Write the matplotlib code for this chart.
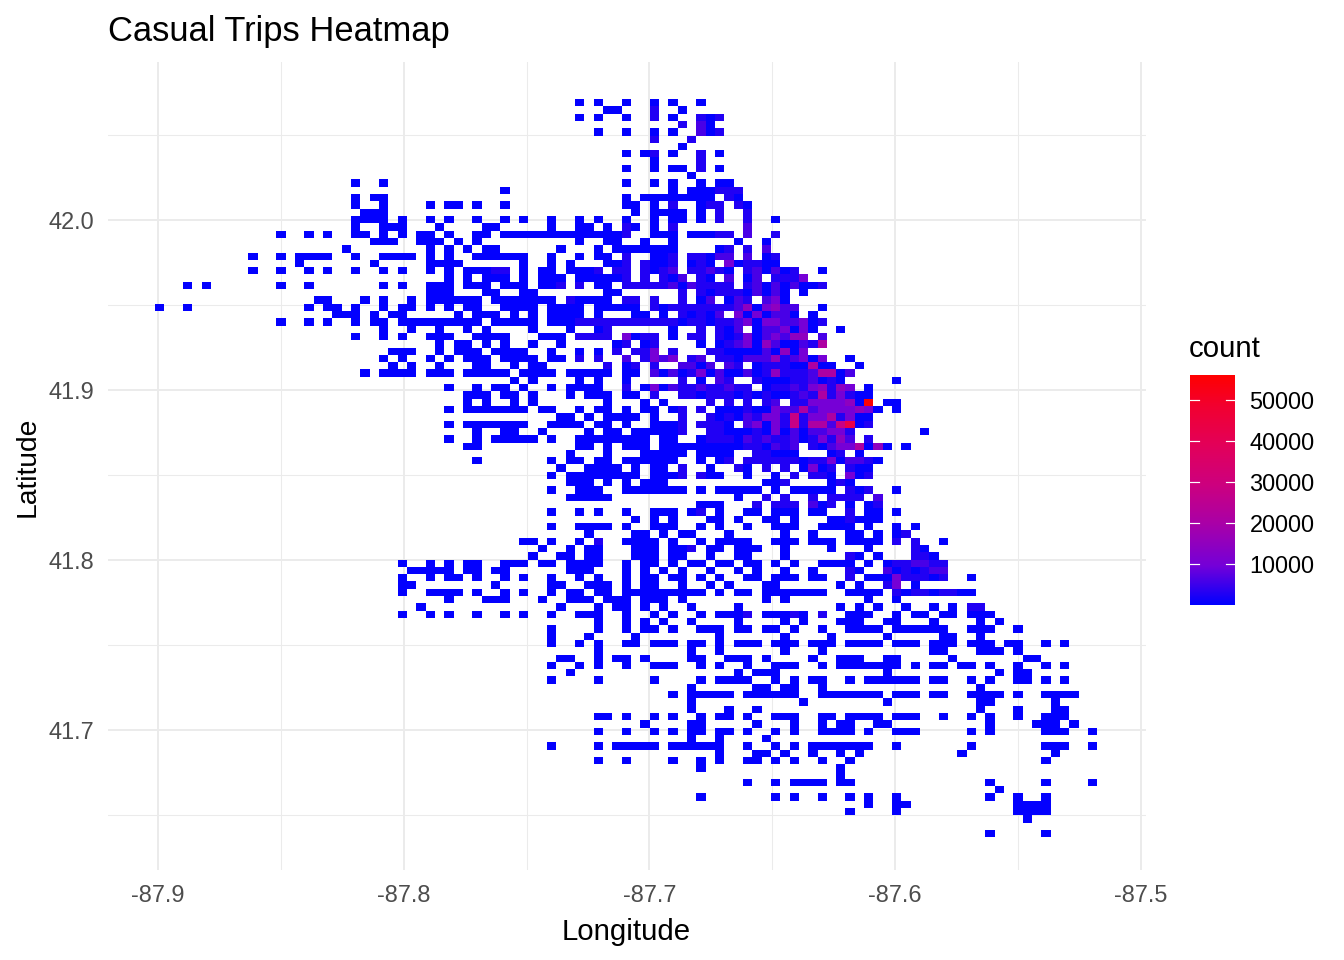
import numpy as np
import matplotlib
matplotlib.use("Agg")
import matplotlib.pyplot as plt
from matplotlib.colors import LinearSegmentedColormap, Normalize

plt.rcParams['font.family'] = ['Liberation Sans', 'DejaVu Sans']

TITLE = "Casual Trips Heatmap"
X_LABEL = "Longitude"
Y_LABEL = "Latitude"
X_TICKS = [-87.9, -87.8, -87.7, -87.6, -87.5]
X_TICK_LABELS = ["-87.9", "-87.8", "-87.7", "-87.6", "-87.5"]
Y_TICKS = [41.7, 41.8, 41.9, 42.0]
Y_TICK_LABELS = ["41.7", "41.8", "41.9", "42.0"]
X_MINOR = [-87.85, -87.75, -87.65, -87.55]
Y_MINOR = [41.65, 41.75, 41.85, 41.95, 42.05]
LEGEND_TICKS = [10000, 20000, 30000, 40000, 50000]

# bin grid of the 2-D histogram
LON_START, LON_STEP = -87.90122, 0.003797
LAT_START, LAT_STEP = 42.07118, -0.0043
N_BINS = 101

# trip count read for each colour grade seen in the picture
GRADE_COUNTS = {0: 300, 1: 2800, 2: 6000, 3: 10000, 4: 14500, 5: 21000,
                6: 28000, 7: 43000, 10: 56000}

# Occupied bins, one string per latitude row from north to south:
# "column" or "first-last", with ":grade" when not the faintest colour.
ROWS_NORTH = [
 "45 47 50 53 55 58",
 "48-49 53:1 56",
 "45 47 50 53:1 55 58:1 59 60:1",
 "56:1 58:2 59",
 "47 50 53 55 58:2 59 60:1",
 "53:1 57:1",
 "56",
 "50 52 53:1 55 58:1 60",
 "53 58:1",
 "50 53 55-56 58:1 60",
 "57",
 "21 24 50 53 55 58 60-61",
 "37 55 57-59 60-62:1",
 "21 23-24 50 52-59 61:1 62",
 "21 24 29 31-32 34 37 50-51 53 55:1 58 59-60:1 62:1 63",
 "22-24 51 53-56 58 60:1 63:1",
 "21-24 26 29 31 34 37 39 42 45 47 50 53 55-56 58 60:1 63:1 66",
 "21 24-26 30 35-36 42 45-46 48 50:1 51 53 55:1 63:2",
 "13 16 18 21-22 24 26 28-29 31 34-35 37-49 50:1 53-55 57-59 60-61:1 63:2 66:1",
 "23-25 28-30 32 34 45 48-49 52 55 62 65",
 "20 29 31 33 35-36 43 47 49-55 60 61:1 63:1 65:2",
 "10 13 15-18 21 24-27 29 31 34-39 42 45 47-48 50:1 53-54 55:1 57-58:1 59 60-61:2 63:2 65 66:1",
 "15 23 29-32 39 42 44 48-49 50:1 52:1 53-54 55:1 57 58:1 59 61:3 62 63-64:1 65-66",
 "10 13 16 18 21 24 26 29 31 33-35 36-37:1 39 41-42 44-46 47:1 49-50:1 52:1 53 54:1 55:2 57-58:1 59:2 60:1 61 63:1 64:2 65 66:2 67 68:1 71",
 "31 33 35-37 39 41-43 45-49 50:1 52:1 54:1 55 56:2 58:1 59 61:2 63 64:2 66-68:1 69:3",
 "3 5 13 16 24 26 29-31 33-35 37-39 41-42 43:1 45:1 47-48 50-54:1 55:2 56 57:2 58-61:1 63:1 64:2 65 66:2 67 68:2 69-70 71:1",
 "29-31 35-36 39-40 48-49 56:1 58:1 59 60-62:1 63 64:2 65 66:2 67 69",
 "17-18 22 24 27 29-34 36-42 44:1 45-48 50-51:1 53:1 56:1 58 59:2 61 62:2 63:1 65:2 66:3 67",
 "0 3 16 18-19 21 24 26-27 29 31 33-34 37-40 42-45 47-51 53:1 54 55:1 56-61:1 62:2 63:4 64 65:3 66:4 67-68:2 71",
 "19-21 23 25-26 32 34-36 38 40 42-45 47 51-52 54 56:1 57 58:1 59 60:2 62:3 63 64:3 65 66-67:2 68 70",
 "13 16 18 21 23-24 26-34 36-40 42-44 45-55:1 56 57-58:1 59 60-61:1 62:2 63:3 64 65-66:3 67-68:2 69:3 70 71:1",
 "24 27 30 33 35 40 44 47 48:1 55 58:1 60:1 61 62:2 64 65-66:2 67:3 68 69:3 70 73",
 "21 24 26 29-31 34-37 41-43 45-48:1 50:3 51 52-53:1 55 57-58:1 60:1 61 62:1 63:3 64 65:2 66:3 67:2 68-69:4 71:2",
]
ROWS_CORE = [
 "30 32-33 35 37 40 43 49 50:1 52 53:1 58 60 61:1 62:2 63:3 64 65:4 66:2 67-68 69:2 70:1 71:5",
 "25-27 30 32-34 36-39 42 45 47 49:1 51-52:1 53:3 55:1 59-60:1 61-64 65:2 66 67:4 68 69:3",
 "24 26 29 31 33-35 37-40 42-43 45:1 47:1 50:2 52:1 53:3 54:2 55:3 57:1 58:2 60-61:1 62 63-64:2 65:2 66:4 67:1 68:2 69:3 70 71:3 74",
 "25 27 30 34-35 38 40-41 48:1 50 51:1 53:1 56-57:2 58 59:2 61:2 62:1 64 65-67:1 68-69 70:5 71-72 75",
 "22 24-27 29-31 33-37 39-42 44-48 50-51 53:2 54 55:2 56 57:1 58:3 59 60:2 61-62 63:2 64 65:1 66:4 67-68:1 69:1 70:2 71-72:5 73 74:2",
 "38 40 45 47 50 56:1 58 60:2 61:1 64:1 65-67 68-69:1 70:2 71 72:1 73 79",
 "31 34 36-37 39 42 44-47 50:1 52 53:3 54 55:2 56-57:1 58:2 59-60:1 61:2 62-63:1 65 66-67:1 68:2 69:1 70:3 71:4 72:1 73:4 74:3 76",
 "33-35 37-38 40 44 46-48 50-51 53:1 56-57:1 58 59-61:1 62 63:1 64 65:1 66-67 68:1 69:2 70:1 71:5 72:1 73:3 74:1 75-76",
 "33 35 38 40 48 52 54 59:1 61:1 63:1 65:1 66:2 68-69:1 70-73:3 74:4 75 76:10 78-79",
 "31 33-39 41-42 45 47-48 50 52-53 55 56:1 58:1 60 61-62 63:1 64-65 66:3 67-68:2 69:5 70:2 71-74:3 75:4 76:3 77 79",
 "43-44 46 48-51 53 56:1 59:1 60 61:1 62 63:2 64:1 65-66:3 67:1 68:6 69:1 70-71:3 72:5 73:1 74:3 75-76",
 "31 33-39 42-45 47-48 50 53-55 56:1 58:1 59-60:1 61 63:2 64:3 65 66:3 67:1 68:6 69:1 70-71:5 72:2 73:6 74:7 75 76:1",
 "34 37-38 41 46 48-49 51-55 56:1 59-60:1 61-63 64:1 65 66:3 67 68:2 69 70-71:2 72-73:3 74:1 82",
 "31 34 36-40 42 45-52 54-55 58 59-61:1 62 63:2 64:1 65:2 66-67:1 68:2 69 70:1 71:3 72:1 73:4 74:2 76:1",
 "33-34 45-46 48 50-52 54-61 62 63-64:1 65 66:2 67:1 68:2 70:1 71 72:2 73-74:3 75:5 76 77:4 78 80",
 "44 48 52-56 58-61 64-65:1 66-68 72 73:1 75",
 "34 42 44-45 47-48 50-55 58 60 61:1 63-68:1 69 70-71:1 72:3 73 74-75:2 76:1 77",
 "43 46-49 51 53-54 56:1 59 62:1 63 65:1 67:1 69 70:3 71 72:1 74:1 75-76",
 "42 44-51 53-55 56:1 58:1 59-60 63 66 68:1 70-71:1 72 74:3 75 76:1",
 "44-46 48 50 52-54 65-66 67:1 72 73:1 74",
 "42 45-47 50-56 58 60-64 66 68-72 74:1 75 76:1 79",
 "44-48 62 65:1 67:1 70:1 72-75:1 77:2",
 "58-60 64:1 66:1 67-68:1 70:2 71 72:1 74 76 77:1",
 "42 45 47 50 53-55 57 58:1 60 63-64 66-68 70-71 74:1 76-77 79",
 "51 53 55 59-60 62 65-66 68 72-73 74:1 75-77",
 "42 45-48 50 53-55 58 60 63 66-68 71-74 76 79 81",
 "46 51-52 54 56-57 61 67 70 74-75 77 79 80:1",
 "39-40 42 45 47:1 50-53 55 58 60-63 66-68 70-72 74-77 79:1 81:1 84",
 "41 44 46-47 51-53 55-56 57:1 59-60 62-64 67 72 76 81:1 82",
 "40 43-44 46-47 51-53 55-56 59 62-63 67 74:1 75 77 81-82:1 83",
 "26 29 31 33-34 37-39 41-42 44-47 50 52-53 55 57-58 60-61 63-64 66 68 71-74 76 78 79-80:1 81-82:2 83-84:1",
 "27-31 33-34 36-37 44-46 50 52 54 56 59 62 64 67 70 74:1 75 78:2 79 80:1 81 82:1 83-84:2",
 "26 29 31-32 34 37 39 42 45 47 50 52-53 55-56 58 60 63-64 66-68 70-71 74:1 76-78 79:3 80-82:1 83 84:1 87",
 "26-27 36 42-43 46-48 50 52-53 56 59 61 65-66 73 75 78:1 79:3 81",
]
ROWS_SOUTH = [
 "26 29-32 34 37 39 42 44-45 47-48 50-58 60 62-63 65-71 74-77 79:1 80 81-82:1 83 84-85:1 86-87",
 "31 35-37 41 44-46 48-50 52-54 56 65 67 76 79",
 "28 43 47 49-50 52 54 57 62 73 75 77 80 83 85 87-88:1",
 "26 29 31 34 37 39 42 45-47 50 53 55 58 60-62 63:1 65-67 68:1 69 71:1 74-76 79 81-82 84-85 87-89",
 "47 50 52 54 57 62 67 69 73-75 78-79 83 88 90",
 "42 47 50 52-53 55 58-60 62-63 65-66 68 71 74-77 79-84 87-89 92",
 "42 46 51 60 67 72 78 84-85 88",
 "42 45 47 50-51 53-55 57-58 60 62-64 66-68 70-72 74-77 79-81 83-85 87-89 91-92 95 97",
 "47 57 60 67 71 83-84 88-90 92",
 "43-44 47 49-50 52 57-58 61-63 65 70 73-75 78-79 85 93-94",
 "42 45 47 50 53-55 58 60 63 66-68 71 73-79 81 83-84 86-87 89 92 95 97",
 "44 62 64-66 78 90 92-93",
 "42 47 53 58 60-63 66 68 70-71 74 76-81 83-84 87 89 92-93 95 97",
 "57 64-65 67-68 71 88",
 "55 57-61 63-68 71-77 79-81 83-84 87-90 92 95-98",
 "57 69 78 88-89 96",
 "57 61 64 88 92 96-97",
 "47-48 50 53 55 58 60-61 63 66-68 71-72 74-77 79-81 84 87 89 92 95-97",
 "52 57-58 64 68 71 73-74 77-78 89 94-96 98",
 "47 50 53 55 57-58 60-61 63 66 68 71-74 76 79-81 87 89 95-97 100",
 "57 60 65",
 "42 47 49-53 55-60 63 66 68 70-76 79 87 95-97 100",
 "60 64-65 67 70 73 75 86 96",
 "47 50 55 58 60 63-64 66 68 71 74 95",
 "58 73",
 "73",
 "63 66 68-71 73-74 89 95 100",
 "90",
 "58 66 68 71 74 76 79 89 92 95",
 "76 79-80 92-95",
 "74 79 92-95",
 "93",
 "",
 "89 95",
]

GRADIENT = ["#0000FF", "#7400D8", "#A800A8", "#CC007F", "#E30058", "#F2002E", "#FF0000"]
GRADIENT_POS = [0, 0.17, 0.35, 0.52, 0.70, 0.87, 1]
COUNT_MIN, COUNT_MAX = 1, 56100


def parse_rows(rows):
    grid = np.full((N_BINS, N_BINS), np.nan)
    for r, row in enumerate(rows):
        for token in row.split():
            span, _, grade = token.partition(":")
            first, _, last = span.partition("-")
            first = int(first)
            last = int(last) if last else first
            grid[r, first:last + 1] = GRADE_COUNTS[int(grade) if grade else 0]
    return grid


W, H = 1344, 960
fig = plt.figure(figsize=(7, 5), dpi=192, facecolor="white")


def rect(left, top, right, bottom):
    return [left / W, 1 - bottom / H, (right - left) / W, (bottom - top) / H]


ax = fig.add_axes(rect(108, 62, 1146, 870))
ax.set_xlim(-87.92035, -87.49796)
ax.set_ylim(41.61765, 42.09294)
for s in ax.spines.values():
    s.set_visible(False)

GRID = "#EBEBEB"
ax.set_axisbelow(True)
ax.set_xticks(X_TICKS, X_TICK_LABELS)
ax.set_yticks(Y_TICKS, Y_TICK_LABELS)
ax.set_xticks(X_MINOR, minor=True)
ax.set_yticks(Y_MINOR, minor=True)
ax.grid(True, which="major", color=GRID, lw=0.75)
ax.grid(True, which="minor", color=GRID, lw=0.38)
ax.tick_params(which="both", length=0)
ax.tick_params(which="major", labelsize=8.8, labelcolor="#4D4D4D")
ax.tick_params(axis="x", which="major", pad=5.2)
ax.tick_params(axis="y", which="major", pad=5.2)

cmap = LinearSegmentedColormap.from_list("bluered", list(zip(GRADIENT_POS, GRADIENT)), N=512)
norm = Normalize(COUNT_MIN, COUNT_MAX)
grid = parse_rows(ROWS_NORTH + ROWS_CORE + ROWS_SOUTH)
lon_edges = LON_START + LON_STEP * np.arange(N_BINS + 1)
lat_edges = LAT_START + LAT_STEP * np.arange(N_BINS + 1)
mesh = ax.pcolormesh(lon_edges, lat_edges, np.ma.masked_invalid(grid), cmap=cmap, norm=norm,
                     antialiased=False, linewidth=0, zorder=2)

fig.text(108 / W, 1 - 41 / H, TITLE, fontsize=12.95, color="black", ha="left", va="baseline")
fig.text(626 / W, 1 - 940 / H, X_LABEL, fontsize=11, color="black", ha="center", va="baseline")
fig.text(41 / W, 1 - 467 / H, Y_LABEL, fontsize=10.6, color="black", rotation=90,
         ha="right", va="center")

cax = fig.add_axes(rect(1190, 375, 1235, 605))
cb = fig.colorbar(mesh, cax=cax)
cb.outline.set_visible(False)
cb.set_ticks(LEGEND_TICKS)
cb.ax.tick_params(length=0, labelsize=8.8, labelcolor="black", pad=5.4)
tr = cax.get_yaxis_transform()
for v in LEGEND_TICKS:
    cax.plot([0, 0.2], [v, v], color="white", lw=0.45, transform=tr, zorder=5)
    cax.plot([0.8, 1], [v, v], color="white", lw=0.45, transform=tr, zorder=5)
fig.text(1189 / W, 1 - 357 / H, "count", fontsize=11, color="black", ha="left", va="baseline")

fig.savefig("out.png", dpi=192)
